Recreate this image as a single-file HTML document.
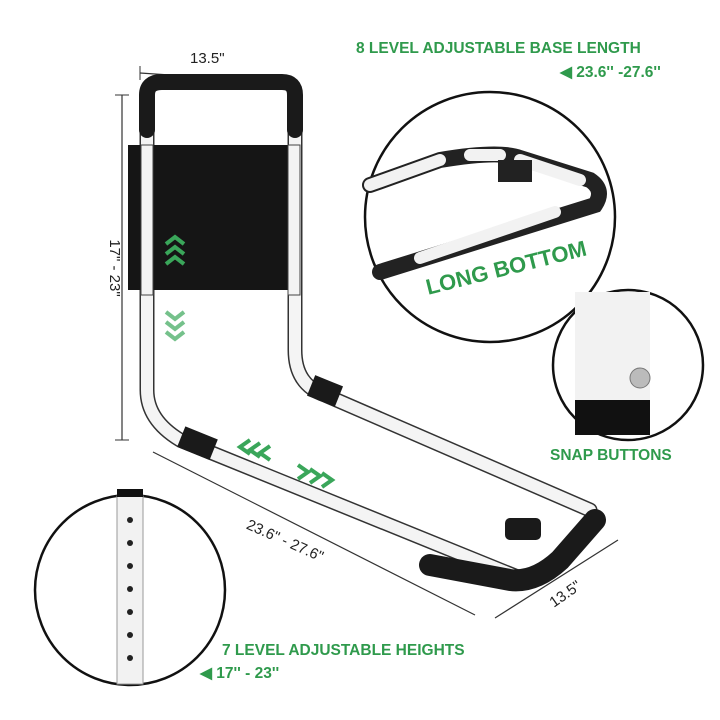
<!DOCTYPE html>
<html><head><meta charset="utf-8"><style>
html,body{margin:0;padding:0;background:#fff;width:720px;height:720px;overflow:hidden}
svg{display:block}
text{font-family:"Liberation Sans",sans-serif}
.g{fill:#2f9a4c;font-weight:bold}
.d{fill:#222;font-size:15px}
</style></head><body>
<svg width="720" height="720" viewBox="0 0 720 720">
<rect width="720" height="720" fill="#fff"/>
<!-- top dim -->
<line x1="140" y1="73" x2="290" y2="83" stroke="#333" stroke-width="1.2"/>
<line x1="140" y1="66" x2="140" y2="80" stroke="#333"/><line x1="290" y1="76" x2="290" y2="90" stroke="#333"/>
<text x="190" y="63" class="d">13.5"</text>
<!-- vertical dim -->
<line x1="122" y1="95" x2="122" y2="440" stroke="#333" stroke-width="1.2"/>
<line x1="115" y1="95" x2="129" y2="95" stroke="#333"/><line x1="115" y1="440" x2="129" y2="440" stroke="#333"/>
<text transform="translate(110,268) rotate(90)" class="d" text-anchor="middle">17" - 23"</text>
<!-- frame tubes -->
<g fill="none" stroke-linecap="round" stroke-linejoin="round">
<path d="M147 130 L147 390 Q147 420 180 440 L520 578" stroke="#333" stroke-width="15"/>
<path d="M147 130 L147 390 Q147 420 180 440 L520 578" stroke="#f4f4f4" stroke-width="12"/>
<path d="M295 130 L295 350 Q295 385 325 395 L590 510" stroke="#333" stroke-width="15"/>
<path d="M295 130 L295 350 Q295 385 325 395 L590 510" stroke="#f4f4f4" stroke-width="12"/>
<path d="M147 130 L147 95 Q147 82 162 82 L282 82 Q295 82 295 95 L295 130" stroke="#1a1a1a" stroke-width="16"/>
<path d="M430 565 L510 580 Q535 583 560 560 L595 520" stroke="#1a1a1a" stroke-width="22"/>
</g>
<rect x="128" y="145" width="172" height="145" fill="#151515"/>
<rect x="141" y="145" width="12" height="150" fill="#f4f4f4" stroke="#444"/>
<rect x="288" y="145" width="12" height="150" fill="#f4f4f4" stroke="#444"/>
<rect x="180" y="432" width="35" height="22" fill="#1a1a1a" transform="rotate(22 197 443)"/>
<rect x="310" y="380" width="30" height="22" fill="#1a1a1a" transform="rotate(22 325 391)"/>
<rect x="505" y="518" width="36" height="22" rx="5" fill="#1a1a1a"/>
<!-- chevrons -->
<g fill="none" stroke="#3aa65a" stroke-width="4">
<path d="M166 244 l9 -7 l9 7 M166 254 l9 -7 l9 7 M166 264 l9 -7 l9 7"/>
<path d="M166 312 l9 7 l9 -7 M166 322 l9 7 l9 -7 M166 332 l9 7 l9 -7" opacity=".7"/>
<path d="M250 440 l-10 7 l10 7 M260 443 l-10 7 l10 7 M270 446 l-10 7 l10 7"/>
<path d="M298 465 l10 7 l-10 7 M310 469 l10 7 l-10 7 M322 473 l10 7 l-10 7"/>
</g>
<!-- bottom dims -->
<line x1="153" y1="452" x2="475" y2="615" stroke="#333" stroke-width="1.2"/>
<text transform="translate(283,545) rotate(24)" class="d" text-anchor="middle">23.6" - 27.6"</text>
<line x1="495" y1="618" x2="618" y2="540" stroke="#333" stroke-width="1.2"/>
<text transform="translate(568,598) rotate(-35)" class="d" text-anchor="middle">13.5"</text>
<!-- circle top -->
<circle cx="490" cy="217" r="125" fill="#fff" stroke="#111" stroke-width="2.5"/>
<g fill="none" stroke-linecap="round">
<path d="M370 185 L440 160 Q500 150 520 158 L590 180 Q605 190 595 205 L380 272" stroke="#222" stroke-width="16"/>
<path d="M370 185 L440 160 M470 155 L500 155 M520 160 L580 180 M555 212 L420 258" stroke="#f2f2f2" stroke-width="12"/>
</g>
<rect x="498" y="160" width="34" height="22" fill="#222"/>
<text transform="translate(508,275) rotate(-14)" class="g" font-size="22" text-anchor="middle">LONG BOTTOM</text>
<!-- snap circle -->
<circle cx="628" cy="365" r="75" fill="#fff" stroke="#111" stroke-width="2.5"/>
<rect x="575" y="292" width="75" height="108" fill="#f2f2f2"/>
<rect x="575" y="400" width="75" height="35" fill="#111"/>
<circle cx="640" cy="378" r="10" fill="#bbb" stroke="#777"/>
<!-- bottom-left circle -->
<circle cx="130" cy="590" r="95" fill="#fff" stroke="#111" stroke-width="2.5"/>
<rect x="117" y="496" width="26" height="188" fill="#f2f2f2" stroke="#999"/>
<rect x="117" y="489" width="26" height="8" fill="#111"/>
<g fill="#222"><circle cx="130" cy="520" r="3"/><circle cx="130" cy="543" r="3"/><circle cx="130" cy="566" r="3"/><circle cx="130" cy="589" r="3"/><circle cx="130" cy="612" r="3"/><circle cx="130" cy="635" r="3"/><circle cx="130" cy="658" r="3"/></g>
<!-- labels -->
<text x="356" y="53" class="g" font-size="15.5">8 LEVEL ADJUSTABLE BASE LENGTH</text>
<text x="560" y="77" class="g" font-size="15.5">◀ 23.6'' -27.6''</text>
<text x="550" y="460" class="g" font-size="15.5">SNAP BUTTONS</text>
<text x="222" y="655" class="g" font-size="15.5">7 LEVEL ADJUSTABLE HEIGHTS</text>
<text x="200" y="678" class="g" font-size="15.5">◀ 17'' - 23''</text>
</svg>
</body></html>
